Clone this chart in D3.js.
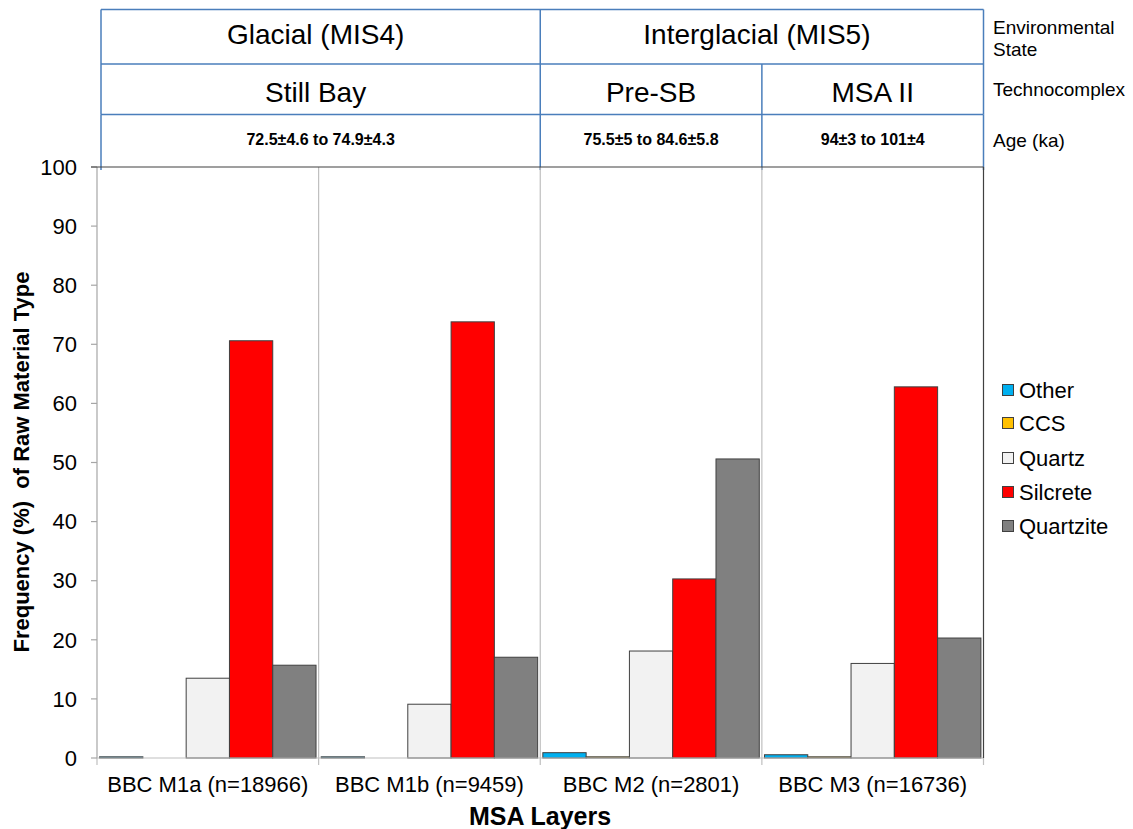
<!DOCTYPE html>
<html><head><meta charset="utf-8">
<script src="https://cdn.jsdelivr.net/npm/d3@7"></script>
<style>
body{margin:0;background:#fff;}
svg{display:block;font-family:"Liberation Sans",Arial,sans-serif;}
</style></head>
<body>
<script>
const categories = ["BBC M1a (n=18966)","BBC M1b (n=9459)","BBC M2 (n=2801)","BBC M3 (n=16736)"];
const seriesNames = ["Other","CCS","Quartz","Silcrete","Quartzite"];
const seriesColors = ["#00b0f0","#ffc000","#f2f2f2","#ff0000","#808080"];
const otherVals = [0.2,0.2,0.9,0.55];
const ccsVals = [0,0,0.2,0.2];
const quartzVals = [13.5,9.1,18.1,16.0];
const silcreteVals = [70.6,73.8,30.3,62.8];
const quartziteVals = [15.7,17.05,50.6,20.3];
const yTicks = [0,10,20,30,40,50,60,70,80,90,100];
const envStates = [{label:"Glacial (MIS4)", from:0, to:2},{label:"Interglacial (MIS5)", from:2, to:4}];
const techno = [{label:"Still Bay", from:0, to:2},{label:"Pre-SB", from:2, to:3},{label:"MSA II", from:3, to:4}];
const ages = [{label:"72.5±4.6 to 74.9±4.3", from:0, to:2},{label:"75.5±5 to 84.6±5.8", from:2, to:3},{label:"94±3 to 101±4", from:3, to:4}];
const rowLabels = [["Environmental","State"],["Technocomplex"],["Age (ka)"]];

(function(){
const allSeries = [otherVals, ccsVals, quartzVals, silcreteVals, quartziteVals];
const W = 1133, H = 829;
const svg = d3.select("body").append("svg").attr("width",W).attr("height",H);

const pL = 97, pR = 983.5, pT = 167, pB = 758;
const x = d3.scaleBand().domain(d3.range(categories.length)).range([pL,pR]).padding(0);
const xs = d3.scaleBand().domain(d3.range(seriesNames.length)).range([0,x.bandwidth()]).paddingInner(0).paddingOuter(0.06);
const y = d3.scaleLinear().domain([0,100]).range([pB,pT]);

// header table
const blue = "#4a7ebb";
const tLeft = 101, tRight = 983.5;
const rowY = [9.5, 64, 114.5, 170];
const bx = i => i===0 ? tLeft : (i===categories.length ? tRight : x(i));
const hdr = svg.append("g");
[rowY[0], rowY[1], rowY[2]].forEach(yy=>{
  hdr.append("line").attr("x1",tLeft).attr("x2",tRight).attr("y1",yy).attr("y2",yy).attr("stroke",blue).attr("stroke-width",1.5);
});
function drawRow(items, r, fs, weight, baseOff, shift){
  items.forEach((it,i)=>{
    const x0 = bx(it.from), x1 = bx(it.to);
    if(i===0) hdr.append("line").attr("x1",x0).attr("x2",x0).attr("y1",rowY[r]).attr("y2",rowY[r+1]).attr("stroke",blue).attr("stroke-width",1.5);
    hdr.append("line").attr("x1",x1).attr("x2",x1).attr("y1",rowY[r]).attr("y2",rowY[r+1]).attr("stroke",blue).attr("stroke-width",1.5);
    hdr.append("text").attr("x",(x0+x1)/2 + (it.to-it.from>1 ? shift : 0)).attr("y",baseOff).attr("text-anchor","middle")
      .attr("font-size",fs).attr("font-weight",weight).attr("fill","#000").text(it.label);
  });
}
drawRow(envStates,0,28,"normal",44,-5);
drawRow(techno,1,28,"normal",102,-5);
drawRow(ages,2,16,"bold",145,0);
const rlBase = [[34,56],[96],[147]];
rowLabels.forEach((ls,r)=>ls.forEach((l,j)=>{
  hdr.append("text").attr("x",993).attr("y",rlBase[r][j]).attr("font-size",19).attr("fill","#000").text(l);
}));

// category separators / ticks
const g = svg.append("g");
d3.range(categories.length+1).forEach(i=>{
  const xx = i===0 ? pL : (i===categories.length ? pR : x(i));
  g.append("line").attr("x1",xx).attr("x2",xx).attr("y1",i===0||i===categories.length?pB:pT).attr("y2",765)
   .attr("stroke","#bfbfbf").attr("stroke-width",1.2);
});

// bars
categories.forEach((c,ci)=>{
  allSeries.forEach((vals,si)=>{
    const v = vals[ci];
    if(v<=0) return;
    g.append("rect").attr("x",x(ci)+xs(si)).attr("y",y(v)).attr("width",xs.bandwidth()).attr("height",y(0)-y(v))
     .attr("fill",seriesColors[si]).attr("stroke","#404040").attr("stroke-width",1);
  });
});

// y axis
g.append("line").attr("x1",pL).attr("x2",pL).attr("y1",pT).attr("y2",pB).attr("stroke","#a6a6a6").attr("stroke-width",1.2);
yTicks.forEach(t=>{
  g.append("line").attr("x1",pL-6).attr("x2",pL).attr("y1",y(t)).attr("y2",y(t)).attr("stroke","#a6a6a6").attr("stroke-width",1.2);
  g.append("text").attr("x",77).attr("y",y(t)).attr("dy","0.35em").attr("text-anchor","end").attr("font-size",22).attr("fill","#000").text(t);
});
// x axis
g.append("line").attr("x1",pL).attr("x2",pR).attr("y1",pB).attr("y2",pB).attr("stroke","#bfbfbf").attr("stroke-width",1.2);
// plot top & right border
g.append("line").attr("x1",pL-6).attr("x2",pR).attr("y1",pT).attr("y2",pT).attr("stroke","#404040").attr("stroke-width",1.2);
g.append("line").attr("x1",pR).attr("x2",pR).attr("y1",pT).attr("y2",pB).attr("stroke","#404040").attr("stroke-width",1.2);

categories.forEach((c,ci)=>{
  g.append("text").attr("x",x(ci)+x.bandwidth()/2).attr("y",792).attr("text-anchor","middle").attr("font-size",22).attr("fill","#000").text(c);
});
g.append("text").attr("x",540).attr("y",825).attr("text-anchor","middle").attr("font-size",25).attr("font-weight","bold").text("MSA Layers");
g.append("text").attr("transform","translate(29,462) rotate(-90)").attr("text-anchor","middle").attr("font-size",22).attr("font-weight","bold")
  .style("white-space","pre").text("Frequency (%)  of Raw Material Type");

// legend
const legY = [390,423,458,492,526];
seriesNames.forEach((n,i)=>{
  g.append("rect").attr("x",1002.5).attr("y",legY[i]-5.5).attr("width",11).attr("height",11).attr("fill",seriesColors[i]).attr("stroke","#404040").attr("stroke-width",1);
  g.append("text").attr("x",1019).attr("y",legY[i]).attr("dy","0.35em").attr("font-size",22).attr("fill","#000").text(n);
});
})();
</script>
</body></html>
